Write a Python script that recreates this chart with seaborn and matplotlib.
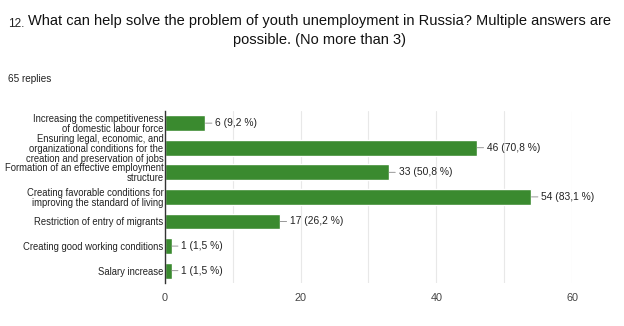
import pandas as pd
import matplotlib.pyplot as plt
import seaborn as sns

# data
answers = [
    "Increasing the competitiveness\nof domestic labour force",
    "Ensuring legal, economic, and\norganizational conditions for the\ncreation and preservation of jobs",
    "Formation of an effective employment\nstructure",
    "Creating favorable conditions for\nimproving the standard of living",
    "Restriction of entry of migrants",
    "Creating good working conditions",
    "Salary increase",
]
counts = [6, 46, 33, 54, 17, 1, 1]
percent_labels = ["9,2 %", "70,8 %", "50,8 %", "83,1 %", "26,2 %", "1,5 %", "1,5 %"]
x_ticks = [0, 20, 40, 60]

df = pd.DataFrame({"answer": answers, "count": counts, "pct": percent_labels})

sns.set_theme(style="white")
plt.rcParams['font.family'] = ['Liberation Sans', 'DejaVu Sans']

fig = plt.figure(figsize=(6.24, 3.26), dpi=100)
ax = fig.add_axes([0.264, 0.132, 0.653, 0.528])

bar_green = '#3a8a2f'
sns.barplot(data=df, y='answer', x='count', orient='h', color=bar_green,
            width=0.65, saturation=1, ax=ax)

# value labels with a short leader line
for i, row in df.iterrows():
    ax.annotate(f"{row['count']} ({row['pct']})", xy=(row['count'], i),
                xytext=(7, 0), textcoords='offset points', ha='left', va='center',
                fontsize=7.4, color='#222222',
                arrowprops=dict(arrowstyle='-', color='#888888', lw=0.6,
                                shrinkA=0, shrinkB=0))

ax.set_xlim(0, 60)
ax.set_xticks(x_ticks)
ax.set_xticks(range(0, 61, 10), minor=True)
ax.grid(axis='x', which='both', color='#e8e8e8', lw=0.8)
ax.set_axisbelow(True)
ax.set_xlabel('')
ax.set_ylabel('')
ax.tick_params(axis='x', labelsize=7.8, labelcolor='#444444', length=0, pad=7)
ax.tick_params(axis='y', labelsize=6.85, labelcolor='#222222', length=0, pad=1)
for lbl in ax.get_yticklabels():
    lbl.set_linespacing(1.0)
for s in ['top', 'right', 'bottom']:
    ax.spines[s].set_visible(False)
ax.spines['left'].set_color('#333333')
ax.spines['left'].set_linewidth(1.0)

# title block
fig.text(0.013, 0.925, "12.", fontsize=8.5, color='#222222', ha='left', va='center')
fig.text(0.512, 0.905,
         "What can help solve the problem of youth unemployment in Russia? Multiple answers are\npossible. (No more than 3)",
         fontsize=10.55, color='#111111', ha='center', va='center', multialignment='center',
         linespacing=1.45)
fig.text(0.013, 0.757, "65 replies", fontsize=7.2, color='#222222', ha='left', va='center')

plt.savefig('out.png', dpi=100)
